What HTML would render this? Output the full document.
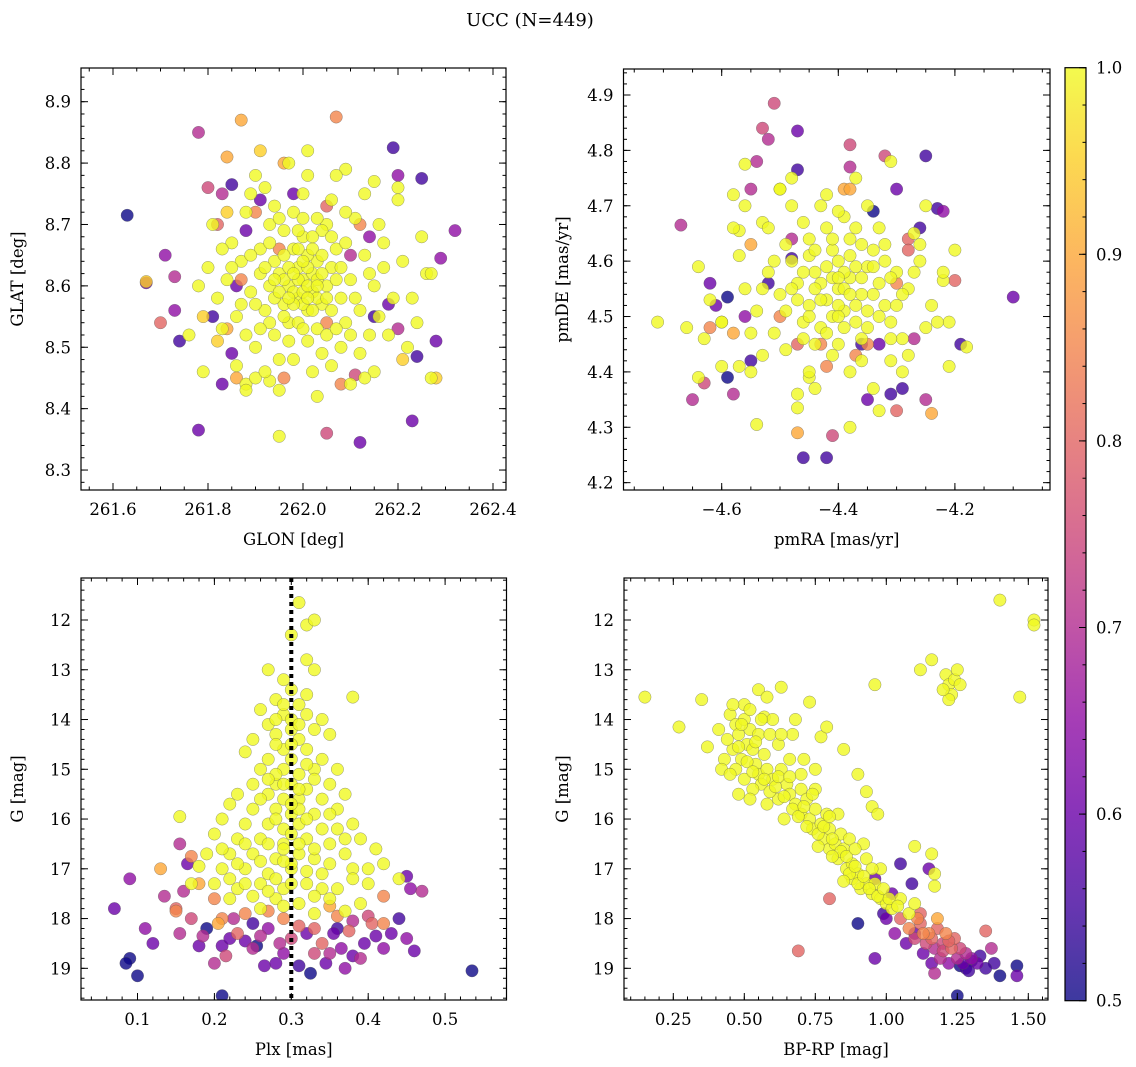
<!DOCTYPE html>
<html><head><meta charset="utf-8"><style>
html,body{margin:0;padding:0;background:#fff;}
svg{display:block;font-family:"DejaVu Serif","Liberation Serif",serif;}
</style></head><body>
<svg id="fig" width="1136" height="1067" viewBox="0 0 1136 1067" xmlns="http://www.w3.org/2000/svg">
<text x="530" y="26" font-size="18" text-anchor="middle">UCC (N=449)</text>
</svg>
<script>
// ---------- data: [x, y, membership probability] ----------
const glonGlat = [
[261.63,8.715,0.5],[261.67,8.605,0.6],[261.67,8.607,0.95],[261.70,8.54,0.8],[261.71,8.65,0.65],[261.73,8.615,0.7],[261.73,8.56,0.65],[261.74,8.51,0.55],[261.78,8.85,0.7],[261.78,8.365,0.6],[261.79,8.46,1],[261.79,8.55,0.95],[261.80,8.76,0.75],[261.81,8.55,0.55],[261.82,8.70,0.8],[261.82,8.51,0.95],[261.83,8.75,0.7],[261.83,8.44,0.6],[261.84,8.72,0.95],[261.84,8.81,0.9],[261.85,8.765,0.55],[261.86,8.45,0.9],[261.87,8.87,0.9],[261.88,8.44,1],[261.90,8.45,1],[261.91,8.74,0.6],[261.91,8.82,0.95],[261.93,8.445,1],[261.95,8.355,1],[261.96,8.80,0.9],[261.96,8.45,0.85],[262.01,8.82,1],[262.03,8.42,1],[262.05,8.36,0.75],[262.07,8.875,0.85],[262.09,8.79,1],[262.11,8.455,0.75],[262.12,8.345,0.6],[262.15,8.46,1],[262.19,8.825,0.55],[262.20,8.78,0.65],[262.20,8.76,1],[262.21,8.48,0.95],[262.23,8.38,0.6],[262.24,8.485,0.55],[262.25,8.775,0.55],[262.26,8.62,1],[262.28,8.51,0.6],[262.28,8.45,0.95],[262.29,8.645,0.65],[262.32,8.69,0.65],[262.20,8.53,0.7],[262.18,8.57,0.6],[262.15,8.55,0.55],[262.14,8.68,0.65],[262.10,8.65,0.7],[261.88,8.69,0.6],[261.86,8.6,0.6],[261.85,8.49,0.6],[261.98,8.75,0.6],
[262.05,8.54,0.85],[261.95,8.66,0.85],[262.08,8.44,0.85],[262.05,8.73,0.8],[261.90,8.72,0.85],[261.87,8.61,0.85],[262.12,8.70,0.85],[261.84,8.53,0.9],
[261.95,8.62,1],[261.97,8.60,1],[262.00,8.61,1],[262.02,8.59,1],[261.99,8.63,1],[262.03,8.64,1],[261.96,8.57,1],[262.01,8.56,1],[262.05,8.60,1],[261.93,8.60,1],[261.98,8.66,1],[262.04,8.57,1],[262.06,8.63,1],[261.94,8.64,1],[261.99,8.58,1],[262.02,8.62,1],[261.97,8.54,1],[262.08,8.58,1],[261.91,8.62,1],[262.00,8.68,1],[262.07,8.66,1],[261.92,8.56,1],[262.03,8.53,1],[261.96,8.69,1],[262.10,8.61,1],[261.89,8.59,1],[262.01,8.51,1],[262.05,8.70,1],[261.94,8.52,1],[262.12,8.56,1],[261.87,8.64,1],[262.09,8.54,1],[261.98,8.72,1],[262.13,8.65,1],[261.86,8.55,1],[262.04,8.49,1],[261.93,8.70,1],[262.15,8.60,1],[261.84,8.61,1],[262.06,8.74,1],[261.90,8.50,1],[262.17,8.67,1],[261.82,8.58,1],[262.11,8.71,1],[261.95,8.48,1],[262.08,8.50,1],[261.88,8.72,1],[262.19,8.58,1],[261.80,8.63,1],[262.00,8.75,1],[262.14,8.52,1],[261.85,8.67,1],[262.02,8.46,1],[261.92,8.76,1],[262.16,8.70,1],[261.83,8.53,1],[262.21,8.64,1],[261.97,8.80,1],[262.12,8.49,1],[261.81,8.70,1],[262.18,8.52,1],[261.90,8.78,1],[262.23,8.58,1],[261.86,8.47,1],[262.07,8.78,1],[262.25,8.68,1],[261.78,8.60,1],[262.10,8.44,1],[261.95,8.43,1],[262.20,8.74,1],[262.22,8.50,1],[261.83,8.66,1],[262.04,8.69,1],[261.99,8.54,1],[262.01,8.65,1],[261.96,8.61,1],[262.03,8.58,1],[261.98,8.59,1],[262.00,8.57,1],[262.02,8.66,1],[261.94,8.58,1],[262.06,8.56,1],[261.91,8.66,1],[262.09,8.67,1],[262.05,8.52,1],[261.93,8.54,1],[262.24,8.54,1],[261.76,8.52,1],[262.27,8.62,1],[261.88,8.43,1],[262.15,8.77,1],[262.13,8.45,1],[262.27,8.45,1],[261.98,8.48,1],
[261.97,8.63,1],[262.00,8.59,1],[261.99,8.61,1],[262.01,8.60,1],[261.98,8.57,1],[262.03,8.61,1],[261.96,8.65,1],[262.04,8.62,1],[262.01,8.63,1],[261.95,8.59,1],[262.02,8.56,1],[261.99,8.66,1],[262.00,8.64,1],[261.97,8.58,1],[262.03,8.60,1],[261.94,8.61,1],[262.05,8.58,1],[262.02,8.68,1],[261.96,8.55,1],[262.07,8.61,1],[261.92,8.63,1],[262.04,8.65,1],[261.98,8.62,1],[262.01,8.58,1],[261.93,8.67,1],[262.06,8.68,1],[261.90,8.57,1],[262.08,8.63,1],[261.97,8.51,1],[262.00,8.53,1],[261.95,8.71,1],[262.03,8.71,1],[261.89,8.65,1],[262.11,8.58,1],[261.91,8.53,1],[262.07,8.53,1],[261.99,8.69,1],[262.00,8.71,1],[261.87,8.57,1],[262.14,8.62,1],[261.94,8.73,1],[262.09,8.72,1],[261.92,8.46,1],[262.06,8.47,1],[261.85,8.63,1],[262.17,8.63,1],[262.01,8.78,1],[261.89,8.75,1],[262.13,8.75,1],[262.10,8.52,1],[261.88,8.52,1],[262.16,8.55,1]
];
const pmraPmde = [
[-4.71,4.49,1],[-4.67,4.665,0.7],[-4.65,4.35,0.7],[-4.64,4.39,1],[-4.64,4.59,1],[-4.63,4.38,0.75],[-4.62,4.56,0.6],[-4.61,4.52,0.6],[-4.60,4.49,1],[-4.59,4.535,0.5],[-4.59,4.39,0.5],[-4.58,4.47,0.9],[-4.58,4.36,0.7],[-4.57,4.41,1],[-4.57,4.655,1],[-4.56,4.775,1],[-4.56,4.50,0.65],[-4.55,4.73,0.7],[-4.55,4.42,0.55],[-4.54,4.78,0.7],[-4.54,4.305,1],[-4.53,4.84,0.75],[-4.52,4.82,0.7],[-4.51,4.885,0.75],[-4.50,4.73,1],[-4.48,4.605,0.55],[-4.47,4.835,0.6],[-4.47,4.765,0.55],[-4.47,4.335,1],[-4.46,4.245,0.55],[-4.47,4.29,0.9],[-4.45,4.39,1],[-4.42,4.245,0.55],[-4.41,4.285,0.75],[-4.38,4.81,0.75],[-4.38,4.77,0.7],[-4.39,4.73,0.9],[-4.35,4.35,0.6],[-4.34,4.69,0.5],[-4.32,4.79,0.75],[-4.31,4.78,1],[-4.30,4.73,0.6],[-4.29,4.37,0.55],[-4.30,4.33,0.8],[-4.31,4.36,0.55],[-4.27,4.46,0.7],[-4.25,4.79,0.55],[-4.25,4.35,0.7],[-4.24,4.325,0.9],[-4.23,4.695,0.55],[-4.22,4.69,0.65],[-4.22,4.565,1],[-4.21,4.49,1],[-4.20,4.565,0.8],[-4.19,4.45,0.55],[-4.18,4.445,1],[-4.10,4.535,0.6],[-4.26,4.66,0.55],[-4.28,4.64,0.8],[-4.33,4.45,0.6],[-4.36,4.45,0.55],[-4.52,4.56,0.55],[-4.48,4.64,0.7],
[-4.38,4.73,0.9],[-4.35,4.45,0.85],[-4.55,4.63,0.9],[-4.43,4.45,0.85],[-4.62,4.48,0.85],[-4.37,4.43,0.85],[-4.28,4.62,0.8],[-4.47,4.45,0.8],[-4.42,4.41,0.85],[-4.30,4.56,0.85],[-4.50,4.50,0.85],
[-4.40,4.55,1],[-4.38,4.57,1],[-4.42,4.53,1],[-4.36,4.54,1],[-4.44,4.58,1],[-4.40,4.60,1],[-4.39,4.51,1],[-4.35,4.59,1],[-4.45,4.52,1],[-4.41,4.62,1],[-4.37,4.49,1],[-4.33,4.56,1],[-4.47,4.56,1],[-4.43,4.48,1],[-4.38,4.64,1],[-4.32,4.52,1],[-4.48,4.60,1],[-4.34,4.62,1],[-4.46,4.49,1],[-4.30,4.58,1],[-4.50,4.54,1],[-4.42,4.66,1],[-4.36,4.46,1],[-4.28,4.55,1],[-4.52,4.58,1],[-4.39,4.68,1],[-4.44,4.45,1],[-4.31,4.49,1],[-4.49,4.63,1],[-4.33,4.66,1],[-4.54,4.51,1],[-4.26,4.60,1],[-4.41,4.43,1],[-4.46,4.67,1],[-4.29,4.46,1],[-4.56,4.55,1],[-4.35,4.70,1],[-4.51,4.47,1],[-4.24,4.52,1],[-4.48,4.70,1],[-4.38,4.40,1],[-4.57,4.61,1],[-4.27,4.65,1],[-4.53,4.43,1],[-4.31,4.42,1],[-4.42,4.72,1],[-4.60,4.49,1],[-4.22,4.58,1],[-4.45,4.40,1],[-4.58,4.66,1],[-4.34,4.37,1],[-4.25,4.70,1],[-4.50,4.73,1],[-4.62,4.53,1],[-4.20,4.62,1],[-4.47,4.36,1],[-4.37,4.75,1],[-4.55,4.40,1],[-4.29,4.40,1],[-4.40,4.52,1],[-4.37,4.59,1],[-4.43,4.56,1],[-4.39,4.58,1],[-4.41,4.50,1],[-4.35,4.51,1],[-4.45,4.61,1],[-4.32,4.60,1],[-4.47,4.53,1],[-4.30,4.52,1],[-4.60,4.41,1],[-4.63,4.46,1],[-4.66,4.48,1],[-4.56,4.70,1],[-4.53,4.67,1],[-4.21,4.41,1],[-4.23,4.49,1],[-4.33,4.33,1],[-4.38,4.30,1],[-4.44,4.37,1],[-4.52,4.66,1],[-4.58,4.72,1],[-4.48,4.75,1],[-4.40,4.45,1],[-4.28,4.43,1],[-4.25,4.48,1],
[-4.39,4.55,1],[-4.41,4.57,1],[-4.37,4.52,1],[-4.42,4.59,1],[-4.36,4.57,1],[-4.40,4.50,1],[-4.43,4.53,1],[-4.38,4.61,1],[-4.34,4.54,1],[-4.44,4.55,1],[-4.39,4.48,1],[-4.36,4.63,1],[-4.46,4.58,1],[-4.33,4.50,1],[-4.41,4.64,1],[-4.45,4.50,1],[-4.35,4.48,1],[-4.31,4.57,1],[-4.48,4.55,1],[-4.37,4.66,1],[-4.42,4.47,1],[-4.32,4.63,1],[-4.49,4.51,1],[-4.40,4.57,1],[-4.38,4.54,1],[-4.44,4.62,1],[-4.34,4.59,1],[-4.46,4.46,1],[-4.29,4.54,1],[-4.51,4.60,1],[-4.40,4.69,1],[-4.36,4.42,1],[-4.27,4.58,1],[-4.53,4.55,1],[-4.43,4.70,1],[-4.31,4.46,1],[-4.49,4.44,1],[-4.26,4.63,1],[-4.55,4.47,1],[-4.45,4.64,1]
];
const plxG = [
[0.07,17.8,0.6],[0.09,17.2,0.65],[0.09,18.8,0.5],[0.085,18.9,0.5],[0.10,19.15,0.5],[0.11,18.2,0.65],[0.12,18.5,0.6],[0.13,17.0,0.9],[0.135,17.55,0.7],[0.15,17.8,0.8],[0.155,18.3,0.7],[0.155,16.5,0.7],[0.16,17.45,0.7],[0.165,16.9,0.6],[0.17,16.75,0.85],[0.17,18.0,0.75],[0.18,18.55,0.6],[0.185,18.35,0.7],[0.19,18.2,0.5],[0.20,18.9,0.7],[0.205,18.1,0.9],[0.21,19.55,0.5],[0.21,18.55,0.6],[0.215,18.75,0.75],[0.22,18.4,0.6],[0.225,18.0,0.7],[0.23,18.3,0.8],[0.24,18.45,0.6],[0.25,18.1,0.55],[0.255,18.55,0.5],[0.26,18.35,0.7],[0.265,18.95,0.6],[0.27,18.2,0.65],[0.28,18.9,0.6],[0.285,18.5,0.7],[0.29,18.7,0.65],[0.30,18.4,0.75],[0.31,18.95,0.55],[0.32,18.3,0.6],[0.325,19.1,0.5],[0.33,18.7,0.75],[0.34,18.5,0.8],[0.345,18.9,0.6],[0.35,18.7,0.7],[0.355,18.3,0.6],[0.36,18.2,0.55],[0.365,18.6,0.65],[0.37,19.0,0.65],[0.375,18.25,0.8],[0.38,18.75,0.6],[0.39,18.8,0.7],[0.395,18.5,0.6],[0.40,17.95,0.75],[0.405,18.1,0.8],[0.41,18.35,0.6],[0.42,18.6,0.65],[0.43,18.3,0.6],[0.44,18.0,0.55],[0.45,18.4,0.65],[0.45,17.15,0.6],[0.455,17.4,0.65],[0.46,18.65,0.6],[0.47,17.45,0.7],[0.535,19.05,0.5],[0.38,18.05,0.7],[0.25,18.6,0.7],
[0.20,17.6,0.85],[0.24,17.9,0.85],[0.29,18.0,0.85],[0.33,18.2,0.8],[0.36,17.95,0.85],[0.42,17.55,0.85],[0.15,17.85,0.85],[0.42,18.1,0.85],[0.18,17.3,0.9],[0.21,18.0,0.85],[0.27,17.85,0.85],[0.31,18.15,0.8],[0.35,17.75,0.9],
[0.31,11.65,1],[0.32,12.1,1],[0.33,12.0,1],[0.32,12.8,1],[0.33,13.0,1],[0.27,13.0,1],[0.29,13.2,1],[0.30,13.4,1],[0.28,13.6,1],[0.31,13.7,1],[0.38,13.55,1],[0.26,13.8,1],[0.29,13.9,1],[0.32,13.9,1],[0.30,14.0,1],[0.27,14.1,1],[0.33,14.2,1],[0.25,14.4,1],[0.28,14.3,1],[0.31,14.4,1],[0.35,14.3,1],[0.29,14.6,1],[0.32,14.6,1],[0.24,14.65,1],[0.27,14.8,1],[0.30,14.8,1],[0.34,14.8,1],[0.26,15.0,1],[0.29,15.0,1],[0.31,15.1,1],[0.33,15.0,1],[0.36,15.0,1],[0.25,15.3,1],[0.28,15.3,1],[0.30,15.3,1],[0.32,15.4,1],[0.35,15.3,1],[0.23,15.5,1],[0.27,15.5,1],[0.29,15.6,1],[0.31,15.6,1],[0.34,15.6,1],[0.37,15.5,1],[0.22,15.7,1],[0.25,15.8,1],[0.28,15.8,1],[0.30,15.9,1],[0.33,15.9,1],[0.36,15.8,1],[0.21,16.0,1],[0.24,16.1,1],[0.27,16.1,1],[0.29,16.2,1],[0.31,16.1,1],[0.34,16.2,1],[0.38,16.1,1],[0.20,16.3,1],[0.23,16.4,1],[0.26,16.4,1],[0.29,16.5,1],[0.32,16.4,1],[0.35,16.5,1],[0.39,16.4,1],[0.19,16.7,1],[0.22,16.7,1],[0.25,16.7,1],[0.28,16.8,1],[0.31,16.7,1],[0.33,16.8,1],[0.37,16.7,1],[0.41,16.6,1],[0.18,16.95,1],[0.21,17.0,1],[0.24,17.0,1],[0.27,17.1,1],[0.30,17.0,1],[0.34,17.1,1],[0.38,17.0,1],[0.42,16.9,1],[0.17,17.3,1],[0.20,17.3,1],[0.23,17.4,1],[0.26,17.3,1],[0.29,17.4,1],[0.32,17.3,1],[0.36,17.4,1],[0.40,17.3,1],[0.44,17.2,1],[0.22,17.6,1],[0.25,17.55,1],[0.28,17.6,1],[0.31,17.7,1],[0.35,17.6,1],[0.39,17.7,1],[0.155,15.95,1],[0.30,12.3,1],[0.30,14.2,1],[0.28,15.1,1],[0.31,15.8,1],[0.29,16.6,1],[0.30,16.9,1],[0.26,17.8,1],[0.33,17.9,1],[0.37,17.85,1],
[0.29,13.7,1],[0.31,14.1,1],[0.28,14.5,1],[0.30,14.5,1],[0.32,14.9,1],[0.29,15.3,1],[0.31,15.4,1],[0.30,15.7,1],[0.28,16.0,1],[0.32,16.0,1],[0.30,16.3,1],[0.27,16.5,1],[0.31,16.5,1],[0.33,16.6,1],[0.29,16.85,1],[0.32,17.05,1],[0.28,17.2,1],[0.30,17.3,1],[0.34,17.4,1],[0.27,17.45,1],[0.26,16.85,1],[0.24,16.5,1],[0.35,16.9,1],[0.36,16.2,1],[0.23,16.9,1],[0.33,15.2,1],[0.27,15.2,1],[0.32,13.5,1],[0.28,14.0,1],[0.34,14.0,1],[0.26,15.6,1],[0.35,15.9,1],[0.22,17.2,1],[0.38,17.2,1],[0.33,17.55,1],[0.29,17.75,1],[0.24,17.3,1],[0.37,16.4,1],[0.21,16.6,1],[0.40,17.0,1]
];
const bprpG = [
[0.15,13.55,1],[0.27,14.15,1],[0.35,13.6,1],[0.37,14.55,1],[0.69,18.65,0.8],[0.90,18.1,0.5],[0.80,17.6,0.8],[0.96,18.8,0.6],[1.25,19.55,0.5],[0.96,13.3,1],[1.12,13.0,1],[1.16,12.8,1],[1.40,11.6,1],[1.52,12.0,1],[1.52,12.1,1],[1.47,13.55,1],[1.21,13.1,1],[1.22,13.3,1],[1.23,13.5,1],[1.24,13.2,1],[1.25,13.0,1],[1.26,13.3,1],[1.22,13.6,1],[1.20,13.4,1],[0.73,13.65,1],[0.63,13.35,1],[0.55,13.4,1],[0.58,13.55,1],[0.57,13.95,1],[0.67,14.3,1],[0.77,14.35,1],[0.79,14.15,1],[0.85,14.6,1],[0.90,15.1,1],[0.93,15.45,1],[0.95,15.75,1],[0.97,15.9,1],[0.75,15.0,1],[1.10,16.55,1],[1.16,16.7,1],[1.17,17.1,1],[1.17,17.35,1],
[1.05,16.9,0.55],[1.15,17.0,0.6],[1.09,17.3,0.55],[1.10,18.3,0.6],[1.12,17.9,0.8],[1.35,18.25,0.8],[1.37,18.6,0.7],[1.38,18.9,0.55],[1.40,19.15,0.5],[1.46,18.95,0.5],[1.46,19.15,0.6],[1.33,18.75,0.55],[1.30,18.85,0.55],[1.28,19.0,0.55],[1.26,18.95,0.5],
[1.05,18.0,0.8],[1.08,18.2,0.85],[1.10,18.4,0.75],[1.12,18.1,0.8],[1.14,18.5,0.75],[1.15,18.3,0.85],[1.17,18.6,0.7],[1.18,18.2,0.8],[1.19,18.8,0.7],[1.20,18.5,0.75],[1.21,18.3,0.85],[1.22,18.9,0.65],[1.23,18.6,0.8],[1.25,18.8,0.7],[1.24,18.4,0.8],[1.26,18.6,0.75],[1.27,18.9,0.6],[1.28,18.7,0.7],[1.30,18.8,0.65],[1.32,18.9,0.6],[1.35,19.0,0.55],[1.13,18.7,0.6],[1.00,18.0,0.6],[1.03,18.3,0.65],[0.99,17.9,0.55],[1.07,18.5,0.6],[1.16,18.9,0.6],[1.17,19.1,0.7],[1.29,19.05,0.55],[1.18,18.0,0.9],[1.02,17.5,0.6],[0.96,17.2,0.6],[1.11,18.0,0.85],[1.16,18.4,0.8],[1.20,18.65,0.75],[1.13,18.3,0.85],[1.22,18.45,0.8],
[0.45,13.9,1],[0.47,14.1,1],[0.48,14.3,1],[0.50,13.7,1],[0.50,14.0,1],[0.51,14.5,1],[0.46,14.6,1],[0.49,14.8,1],[0.52,14.2,1],[0.53,14.6,1],[0.54,14.9,1],[0.55,15.1,1],[0.43,14.8,1],[0.44,14.4,1],[0.47,15.0,1],[0.50,15.2,1],[0.52,13.8,1],[0.55,14.3,1],[0.57,14.7,1],[0.58,15.0,1],[0.56,15.3,1],[0.59,14.3,1],[0.60,14.0,1],[0.62,14.5,1],[0.60,15.2,1],[0.63,15.0,1],[0.65,15.3,1],[0.62,15.6,1],[0.66,15.5,1],[0.68,15.7,1],[0.70,15.4,1],[0.70,15.9,1],[0.72,15.6,1],[0.73,16.0,1],[0.75,15.8,1],[0.74,16.2,1],[0.77,16.1,1],[0.78,16.4,1],[0.80,16.2,1],[0.80,16.6,1],[0.82,16.5,1],[0.83,16.8,1],[0.85,16.6,1],[0.86,17.0,1],[0.88,16.9,1],[0.88,17.2,1],[0.90,17.1,1],[0.91,17.4,1],[0.93,17.3,1],[0.95,17.5,1],[0.96,17.3,1],[0.98,17.6,1],[1.00,17.7,1],[1.02,17.8,1],[0.98,17.0,1],[0.93,16.8,1],[0.84,16.3,1],[0.66,14.8,1],[0.53,15.4,1],[0.48,15.5,1],[0.58,15.7,1],[0.79,15.9,1],[0.87,16.4,1],[0.95,17.0,1],[1.05,17.6,1],[1.08,17.9,1],[1.10,17.7,1],[0.92,16.5,1],[0.70,15.1,1],[0.64,16.0,1],[0.56,14.0,1],[0.46,13.7,1],[0.41,14.2,1],[0.42,15.0,1],[0.68,14.0,1],[0.71,14.8,1],[0.75,15.4,1],[0.83,15.9,1],
[0.48,14.55,1],[0.51,14.85,1],[0.53,15.05,1],[0.57,15.2,1],[0.59,15.45,1],[0.61,15.35,1],[0.64,15.55,1],[0.67,15.8,1],[0.69,15.95,1],[0.71,15.75,1],[0.72,16.15,1],[0.76,16.3,1],[0.78,16.15,1],[0.81,16.4,1],[0.84,16.65,1],[0.86,16.75,1],[0.87,17.1,1],[0.89,16.95,1],[0.90,17.3,1],[0.92,17.15,1],[0.94,17.4,1],[0.97,17.55,1],[0.99,17.4,1],[1.01,17.6,1],[1.04,17.75,1],[0.81,16.75,1],[0.76,16.55,1],[0.85,17.25,1],[0.62,15.15,1],[0.54,14.45,1],[0.49,14.1,1],[0.52,15.6,1],[0.66,15.15,1],[0.74,15.5,1],[0.80,15.95,1],[0.89,16.6,1],[0.63,14.3,1],[0.45,15.1,1]
];
const plxLine = [0.30];
const p1XTicks = [261.6,261.8,262.0,262.2,262.4];
const p1YTicks = [8.3,8.4,8.5,8.6,8.7,8.8,8.9];
const p2XTicks = [-4.6,-4.4,-4.2];
const p2YTicks = [4.2,4.3,4.4,4.5,4.6,4.7,4.8,4.9];
const p3XTicks = [0.1,0.2,0.3,0.4,0.5];
const gTicks = [12,13,14,15,16,17,18,19];
const p4XTicks = [0.25,0.5,0.75,1.0,1.25,1.5];
const cbTicks = [0.5,0.6,0.7,0.8,0.9,1.0];

const NS = "http://www.w3.org/2000/svg";
const svg = document.getElementById('fig');
function mk(tag, attrs, parent){const e=document.createElementNS(NS,tag);for(const k in attrs)e.setAttribute(k,attrs[k]);(parent||svg).appendChild(e);return e;}

const stops=[[0,[13,8,135]],[0.1,[65,4,157]],[0.2,[106,0,168]],[0.3,[143,13,164]],[0.4,[177,42,144]],[0.5,[204,71,120]],[0.6,[225,100,98]],[0.7,[242,132,75]],[0.8,[252,166,54]],[0.9,[252,206,37]],[1,[240,249,33]]];
function plasma(t){t=Math.max(0,Math.min(1,t));for(let i=1;i<stops.length;i++){if(t<=stops[i][0]){const a=stops[i-1],b=stops[i];const f=(t-a[0])/(b[0]-a[0]);const c=a[1].map((v,j)=>Math.round(v+(b[1][j]-v)*f));return `rgb(${c[0]},${c[1]},${c[2]})`;}}return 'rgb(240,249,33)';}
function pcol(p){return plasma((p-0.5)/0.5);}

function fmt(v,d){const s=v.toFixed(d);return v<0?'\u2212'+s.slice(1):s;}

const FS=16.5;
function panel(cfg){
  const g=mk('g',{});
  
  
  const {L,R,T,B}=cfg;
  const sx=v=>cfg.x0px+(v-cfg.x0)*cfg.xs;
  const sy=v=>cfg.y0px+(cfg.yinv?1:-1)*(v-cfg.y0)*cfg.ys;
  const clip='clip-'+cfg.name;
  const cp=mk('clipPath',{id:clip},g);mk('rect',{x:L,y:T,width:R-L,height:B-T},cp);
  const pts=mk('g',{'clip-path':`url(#${clip})`},g);
  
  
  const data=cfg.data.slice().sort((a,b)=>a[2]-b[2]);
  data.forEach(d=>{
    const c=mk('circle',{cx:sx(d[0]).toFixed(1),cy:sy(d[1]).toFixed(1),r:6.2,fill:pcol(d[2]),'fill-opacity':0.8,stroke:'#555','stroke-opacity':0.6,'stroke-width':0.5},pts);
    
    
  });
  if(cfg.vline){cfg.vline.forEach(v=>{const l=mk('line',{x1:sx(v),x2:sx(v),y1:T,y2:B,stroke:'#000','stroke-width':4,'stroke-dasharray':'4,4'},pts);
    
    });}
  const tk=mk('g',{stroke:'#000','stroke-width':1},g);
  const xt=cfg.xticks, yt=cfg.yticks;
  const xstep=xt[1]-xt[0], ystep=yt[1]-yt[0];
  function minors(ticks,step,n,lo,hi){const out=[];const s=step/n;for(let v=ticks[0]-step;v<=ticks[ticks.length-1]+step+1e-9;v+=s){if(v>=lo-1e-9&&v<=hi+1e-9)out.push(v);}return out;}
  const xlo=cfg.x0+(L-cfg.x0px)/cfg.xs, xhi=cfg.x0+(R-cfg.x0px)/cfg.xs;
  minors(xt,xstep,cfg.xmn,xlo,xhi).forEach(v=>{const x=sx(v);mk('line',{x1:x,x2:x,y1:B,y2:B-3.5},tk);mk('line',{x1:x,x2:x,y1:T,y2:T+3.5},tk);});
  let ya=cfg.y0+(cfg.yinv?-(cfg.y0px-T):(cfg.y0px-T))/cfg.ys, yb=cfg.y0+(cfg.yinv?(B-cfg.y0px):-(B-cfg.y0px))/cfg.ys;
  minors(yt,ystep,cfg.ymn,Math.min(ya,yb),Math.max(ya,yb)).forEach(v=>{const y=sy(v);mk('line',{x1:L,x2:L+3.5,y1:y,y2:y},tk);mk('line',{x1:R,x2:R-3.5,y1:y,y2:y},tk);});
  xt.forEach(v=>{const x=sx(v);mk('line',{x1:x,x2:x,y1:B,y2:B-7},tk);mk('line',{x1:x,x2:x,y1:T,y2:T+7},tk);
    const t=mk('text',{x:x,y:B+25,'font-size':FS,'text-anchor':'middle'},g);t.textContent=fmt(v,cfg.xd);
    
    });
  yt.forEach(v=>{const y=sy(v);mk('line',{x1:L,x2:L+7,y1:y,y2:y},tk);mk('line',{x1:R,x2:R-7,y1:y,y2:y},tk);
    const t=mk('text',{x:L-10,y:y+6,'font-size':FS,'text-anchor':'end'},g);t.textContent=fmt(v,cfg.yd);
    
    });
  const fr=mk('rect',{x:L,y:T,width:R-L,height:B-T,fill:'none',stroke:'#000','stroke-width':1.2},g);
  
  
  const xl=mk('text',{x:(L+R)/2,y:B+55,'font-size':FS,'text-anchor':'middle'},g);xl.textContent=cfg.xlabel;
  
  
  const yx=cfg.ylx, ymid=(T+B)/2;
  const yl=mk('text',{x:yx,y:ymid,'font-size':FS,'text-anchor':'middle',transform:`rotate(-90 ${yx} ${ymid})`},g);yl.textContent=cfg.ylabel;
  
  
}

panel({name:'glon-glat-panel',data:glonGlat,L:81,R:506,T:68,B:490,x0:261.6,x0px:113,xs:475,y0:8.9,y0px:101.7,ys:613.9,yinv:false,xticks:p1XTicks,yticks:p1YTicks,xmn:4,ymn:5,xd:1,yd:1,xlabel:'GLON [deg]',ylabel:'GLAT [deg]',ylx:23});
panel({name:'pm-panel',data:pmraPmde,L:623.5,R:1050,T:69,B:490,x0:-4.4,x0px:838.3,xs:583,y0:4.9,y0px:95,ys:553.8,yinv:false,xticks:p2XTicks,yticks:p2YTicks,xmn:4,ymn:5,xd:1,yd:1,xlabel:'pmRA [mas/yr]',ylabel:'pmDE [mas/yr]',ylx:568});
panel({name:'plx-g-panel',data:plxG,L:81,R:506.5,T:578,B:1000,x0:0.3,x0px:291.3,xs:769,y0:12,y0px:620,ys:49.76,yinv:true,xticks:p3XTicks,yticks:gTicks,xmn:5,ymn:5,xd:1,yd:0,xlabel:'Plx [mas]',ylabel:'G [mag]',ylx:23,vline:plxLine});
panel({name:'cmd-panel',data:bprpG,L:624,R:1048,T:578,B:1000,x0:0.25,x0px:673.3,xs:284,y0:12,y0px:620,ys:49.76,yinv:true,xticks:p4XTicks,yticks:gTicks,xmn:5,ymn:5,xd:2,yd:0,xlabel:'BP-RP [mag]',ylabel:'G [mag]',ylx:568});

(function(){
  const cbL=1065,cbR=1086,cbT=67.7,cbB=1000.7;
  const g=mk('g',{});
  
  
  const defs=mk('defs',{},g);
  const lg=mk('linearGradient',{id:'cbgrad',x1:0,y1:1,x2:0,y2:0},defs);
  for(let i=0;i<=20;i++){mk('stop',{offset:i/20,'stop-color':plasma(i/20),'stop-opacity':0.8},lg);}
  mk('rect',{x:cbL,y:cbT,width:cbR-cbL,height:cbB-cbT,fill:'url(#cbgrad)'},g);
  const sy=v=>cbB-(v-0.5)/0.5*(cbB-cbT);
  for(let v=0.5;v<=1.0001;v+=0.02){const y=sy(v);mk('line',{x1:cbR,x2:cbR-3.5,y1:y,y2:y,stroke:'#000','stroke-width':1},g);}
  cbTicks.forEach(v=>{const y=sy(v);mk('line',{x1:cbR,x2:cbR-7,y1:y,y2:y,stroke:'#000','stroke-width':1},g);
    const t=mk('text',{x:cbR+10,y:y+6,'font-size':FS},g);t.textContent=v.toFixed(1);
    
    });
  mk('rect',{x:cbL,y:cbT,width:cbR-cbL,height:cbB-cbT,fill:'none',stroke:'#000','stroke-width':1.2},g);
})();
</script>
</body></html>
